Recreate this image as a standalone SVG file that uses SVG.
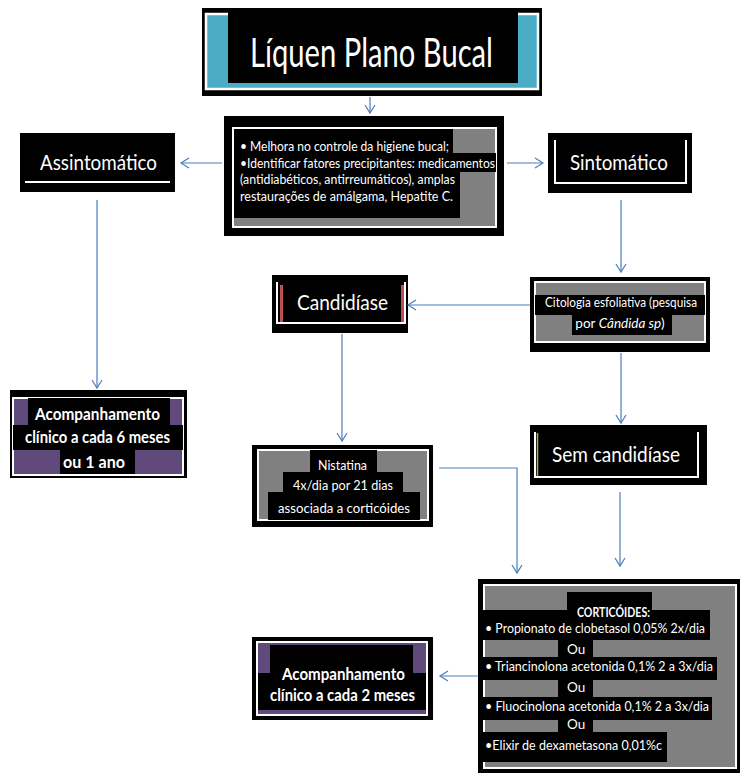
<svg xmlns="http://www.w3.org/2000/svg" width="740" height="773" viewBox="0 0 740 773">
<style>
.t{font-family:Lato,"Liberation Sans",sans-serif;fill:#fff}
.big{font-size:21px}
.sm{font-size:13.5px}
.bd{font-size:17px;font-weight:bold}
.blk{fill:#000}
.gray{fill:#808080;stroke:#fff;stroke-width:2}
.pur{fill:#604A7B;stroke:#fff;stroke-width:2}
.wl{fill:none;stroke:#fff;stroke-width:2}
.c{fill:none;stroke:#4A7EBB;stroke-width:1.2;marker-end:url(#ah)}
</style>
<defs>
<marker id="ah" markerUnits="userSpaceOnUse" markerWidth="12" markerHeight="12" viewBox="-10 -6 12 12" refX="0" refY="0" orient="auto">
<path d="M-8,-5 L0,0 L-8,5" fill="none" stroke="#4A7EBB" stroke-width="1.2"/>
</marker>
</defs>
<rect width="740" height="773" fill="#fff"/>

<g id="title">
<rect x="202" y="8" width="340" height="88" class="blk"/>
<rect x="206" y="14" width="332" height="75" fill="#4BACC6" stroke="#fff" stroke-width="2.5"/>
<rect x="228" y="11" width="290" height="72" class="blk"/>
<text x="250" y="67" class="t" font-size="40" textLength="243" lengthAdjust="spacingAndGlyphs">Líquen Plano Bucal</text>
</g>

<g id="medidas">
<rect x="224" y="116" width="280" height="120" class="blk"/>
<rect x="233" y="128" width="263" height="99" class="gray"/>
<rect x="234" y="129" width="219" height="24" class="blk"/>
<rect x="234" y="153" width="262" height="19" class="blk"/>
<rect x="234" y="172" width="226" height="46" class="blk"/>
<text x="240" y="151" class="t sm" textLength="209" lengthAdjust="spacingAndGlyphs">• Melhora no controle da higiene bucal;</text>
<text x="240" y="168" class="t sm" textLength="255" lengthAdjust="spacingAndGlyphs">•Identificar fatores precipitantes: medicamentos</text>
<text x="240" y="184" class="t sm" textLength="215" lengthAdjust="spacingAndGlyphs">(antidiabéticos, antirreumáticos), amplas</text>
<text x="240" y="201" class="t sm" textLength="213" lengthAdjust="spacingAndGlyphs">restaurações de amálgama, Hepatite C.</text>
</g>

<g id="assintomatico">
<rect x="20" y="133" width="155" height="59" class="blk"/>
<line x1="25" y1="182" x2="170" y2="182" stroke="#fff" stroke-width="2"/>
<text x="40" y="170" class="t big" textLength="117" lengthAdjust="spacingAndGlyphs">Assintomático</text>
</g>

<g id="sintomatico">
<rect x="548" y="133" width="144" height="60" class="blk"/>
<polyline points="555,140 555,183 686,183 686,140" class="wl"/>
<text x="570" y="170" class="t big" textLength="98" lengthAdjust="spacingAndGlyphs">Sintomático</text>
</g>

<g id="candidiase">
<rect x="272" y="275" width="136" height="58" class="blk"/>
<polyline points="277,282 277,323 405,323 405,282" class="wl"/>
<rect x="280" y="285" width="3" height="37" fill="#C0504D"/>
<rect x="401" y="285" width="3" height="37" fill="#C0504D"/>
<text x="297" y="310" class="t big" textLength="91" lengthAdjust="spacingAndGlyphs">Candidíase</text>
</g>

<g id="citologia">
<rect x="530" y="277" width="180" height="75" class="blk"/>
<rect x="535" y="282" width="170" height="60" class="gray"/>
<rect x="535" y="295" width="170" height="20" class="blk"/>
<rect x="572" y="315" width="100" height="20" class="blk"/>
<text x="545" y="307" class="t sm" textLength="152" lengthAdjust="spacingAndGlyphs">Citologia esfoliativa (pesquisa</text>
<text x="620" y="328" class="t sm" text-anchor="middle">por <tspan font-style="italic">Cândida sp</tspan>)</text>
</g>

<g id="acomp6">
<rect x="10" y="390" width="177" height="88" class="blk"/>
<rect x="13" y="398" width="170" height="77" class="pur"/>
<rect x="28" y="398" width="142" height="27" class="blk"/>
<rect x="13" y="425" width="170" height="25" class="blk"/>
<rect x="60" y="450" width="75" height="24" class="blk"/>
<text x="35" y="420" class="t bd" textLength="125" lengthAdjust="spacingAndGlyphs">Acompanhamento</text>
<text x="25" y="443" class="t bd" textLength="145" lengthAdjust="spacingAndGlyphs">clínico a cada 6 meses</text>
<text x="63" y="468" class="t bd" textLength="62" lengthAdjust="spacingAndGlyphs">ou 1 ano</text>
</g>

<g id="nistatina">
<rect x="252" y="445" width="181" height="82" class="blk"/>
<rect x="258" y="450" width="170" height="70" class="gray"/>
<rect x="310" y="450" width="67" height="22" class="blk"/>
<rect x="283" y="472" width="120" height="20" class="blk"/>
<rect x="268" y="492" width="152" height="28" class="blk"/>
<text x="318" y="470" class="t sm" textLength="49" lengthAdjust="spacingAndGlyphs">Nistatina</text>
<text x="293" y="490" class="t sm" font-size="14" textLength="100" lengthAdjust="spacingAndGlyphs">4x/dia por 21 dias</text>
<text x="278" y="513" class="t sm" font-size="14" textLength="132" lengthAdjust="spacingAndGlyphs">associada a corticóides</text>
</g>

<g id="semcandidiase">
<rect x="530" y="425" width="177" height="60" class="blk"/>
<polyline points="535,432 535,477 698,477 698,432" class="wl"/>
<line x1="537.5" y1="433" x2="537.5" y2="476" stroke="#9BBB59" stroke-width="1.5"/>
<text x="552" y="462" class="t big" textLength="128" lengthAdjust="spacingAndGlyphs">Sem candidíase</text>
</g>

<g id="corticoides">
<rect x="478" y="579" width="262" height="194" class="blk"/>
<rect x="484" y="585" width="252" height="183" class="gray"/>
<rect x="567" y="592" width="85" height="18" class="blk"/>
<rect x="483" y="610" width="227" height="30" class="blk"/>
<rect x="558" y="640" width="35" height="17" class="blk"/>
<rect x="483" y="657" width="234" height="23" class="blk"/>
<rect x="558" y="680" width="35" height="17" class="blk"/>
<rect x="483" y="697" width="229" height="23" class="blk"/>
<rect x="558" y="720" width="35" height="12" class="blk"/>
<rect x="483" y="732" width="184" height="30" class="blk"/>
<text x="577" y="617" class="t sm" font-weight="bold" textLength="73" lengthAdjust="spacingAndGlyphs">CORTICÓIDES:</text>
<text x="485" y="633" class="t sm" textLength="220" lengthAdjust="spacingAndGlyphs">• Propionato de clobetasol 0,05% 2x/dia</text>
<text x="567" y="654" class="t sm">Ou</text>
<text x="485" y="671" class="t sm" textLength="228" lengthAdjust="spacingAndGlyphs">• Triancinolona acetonida 0,1% 2 a 3x/dia</text>
<text x="567" y="692" class="t sm">Ou</text>
<text x="485" y="711" class="t sm" textLength="224" lengthAdjust="spacingAndGlyphs">• Fluocinolona acetonida 0,1% 2 a 3x/dia</text>
<text x="567" y="729" class="t sm">Ou</text>
<text x="485" y="750" class="t sm" textLength="177" lengthAdjust="spacingAndGlyphs">•Elixir de dexametasona 0,01%c</text>
</g>

<g id="acomp2">
<rect x="252" y="637" width="181" height="83" class="blk"/>
<rect x="257" y="642" width="170" height="73" class="pur"/>
<rect x="270" y="645" width="143" height="28" class="blk"/>
<rect x="258" y="673" width="168" height="37" class="blk"/>
<text x="282" y="680" class="t bd" textLength="123" lengthAdjust="spacingAndGlyphs">Acompanhamento</text>
<text x="270" y="701" class="t bd" textLength="145" lengthAdjust="spacingAndGlyphs">clínico a cada 2 meses</text>
</g>

<g id="connectors">
<line x1="370" y1="97" x2="370" y2="113" class="c"/>
<line x1="222" y1="163" x2="181" y2="163" class="c"/>
<line x1="507" y1="163" x2="543" y2="163" class="c"/>
<line x1="97" y1="200" x2="97" y2="388" class="c"/>
<line x1="621" y1="200" x2="621" y2="272" class="c"/>
<line x1="530" y1="305" x2="408" y2="305" class="c"/>
<line x1="342" y1="334" x2="342" y2="441" class="c"/>
<line x1="621" y1="353" x2="621" y2="423" class="c"/>
<polyline points="439,468 517,468 517,573" class="c"/>
<line x1="620" y1="492" x2="620" y2="566" class="c"/>
<line x1="478" y1="676" x2="440" y2="676" class="c"/>
</g>
</svg>
